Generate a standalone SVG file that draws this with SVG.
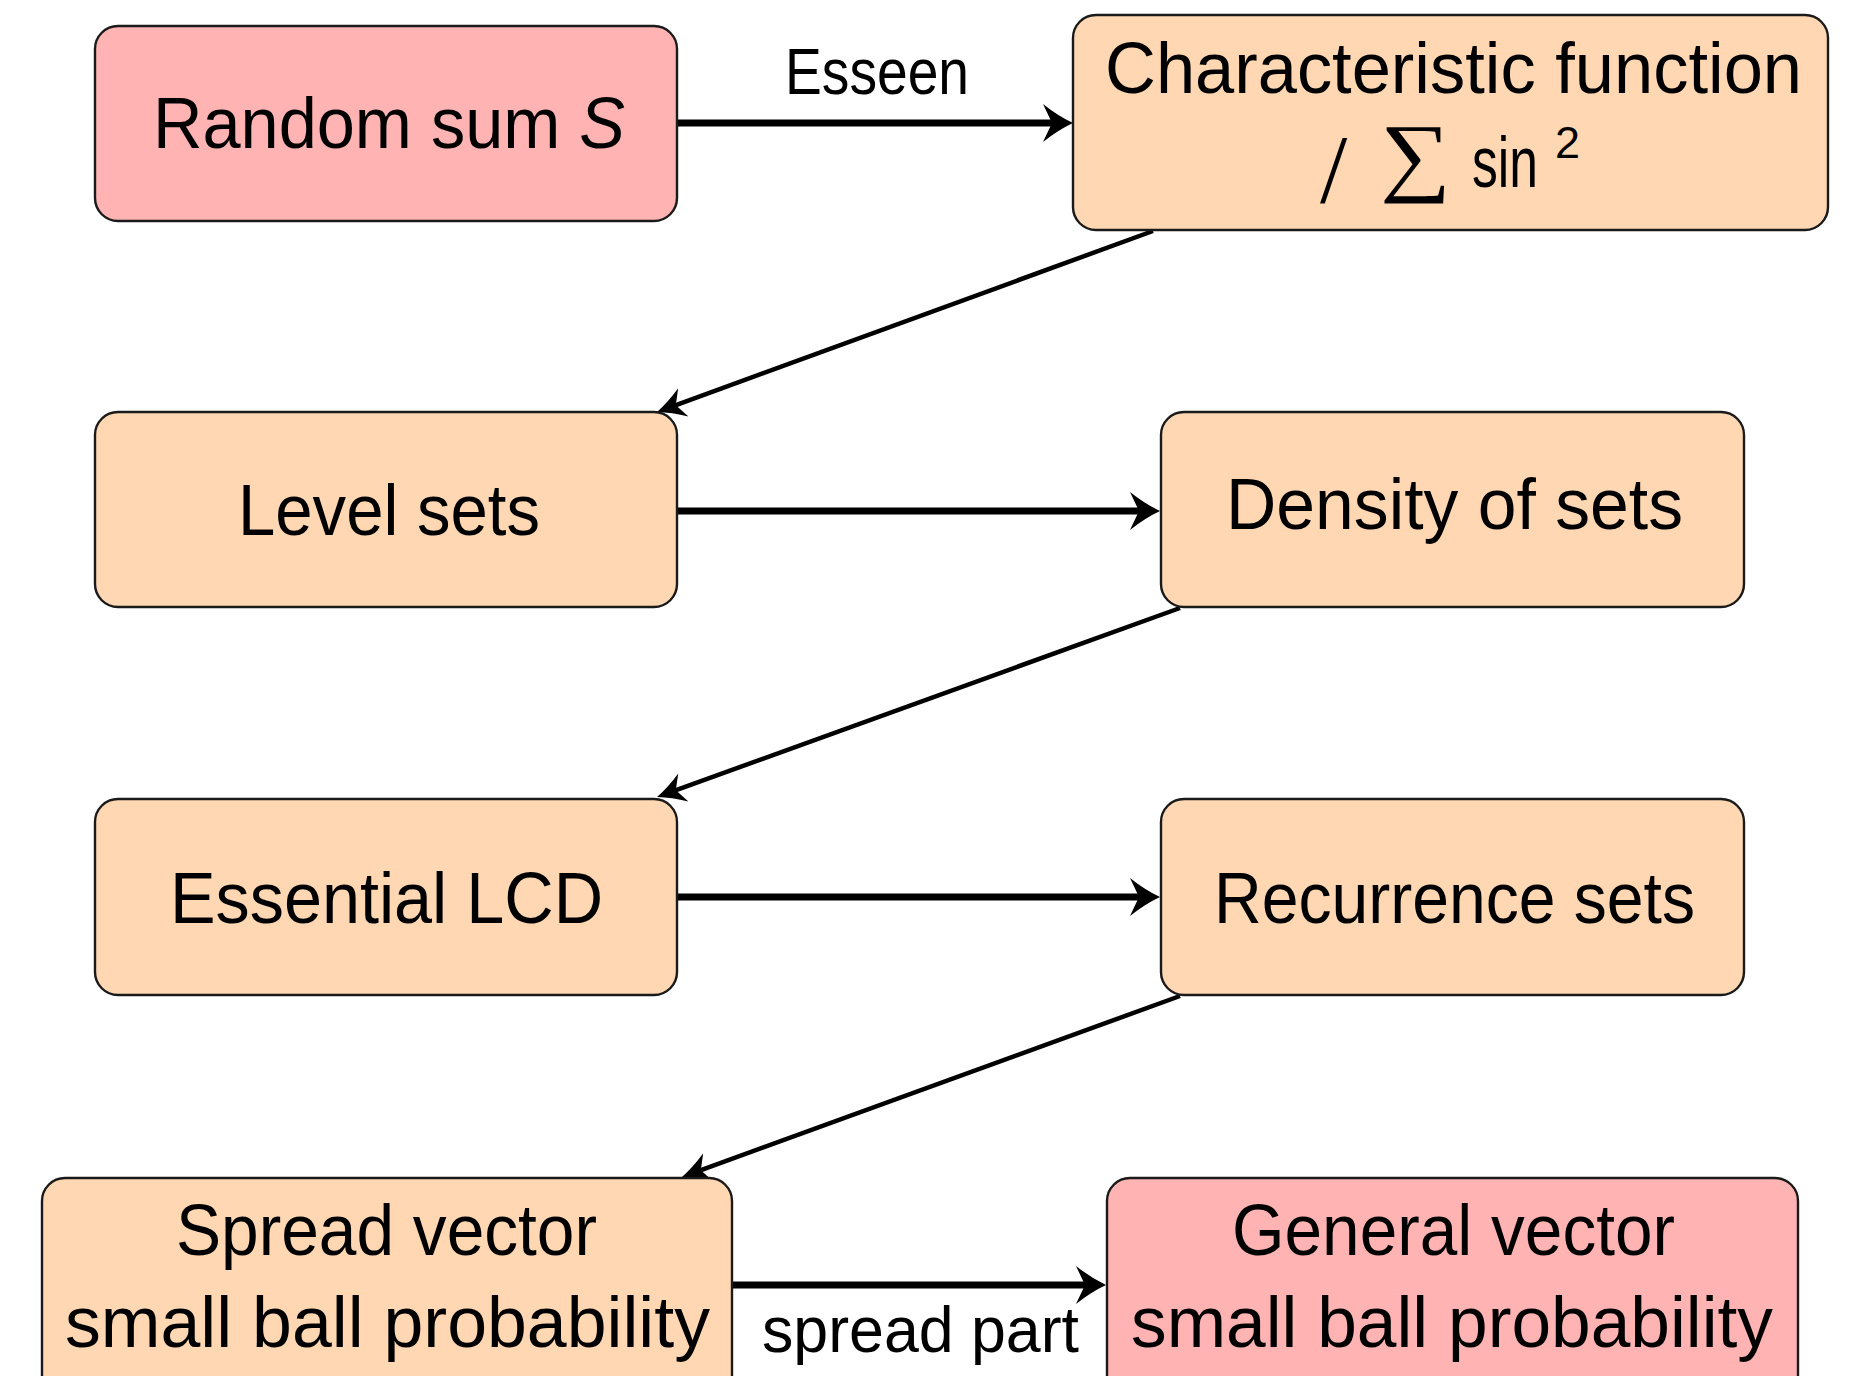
<svg xmlns="http://www.w3.org/2000/svg" width="1866" height="1376" viewBox="0 0 1866 1376">
<defs>
<style>
.box{stroke:#1a1a1a;stroke-width:2.4}
.pink{fill:#FFB3B3}
.orange{fill:#FFD8B3}
.t{font-family:"Liberation Sans",Arial,sans-serif;font-size:73px;fill:#000}
.lbl{font-family:"Liberation Sans",Arial,sans-serif;font-size:64px;fill:#000}
.h{fill:none;stroke:#000;stroke-width:7;marker-end:url(#ah)}
.d{fill:none;stroke:#000;stroke-width:4.5;marker-end:url(#ad)}
</style>
<marker id="ah" markerUnits="userSpaceOnUse" markerWidth="34" markerHeight="44" viewBox="0 -22 34 44" refX="20" refY="0" orient="auto">
<path d="M0,-19 Q15,-7 30,0 Q15,7 0,19 L9,0 Z" fill="#000"/>
</marker>
<marker id="ad" markerUnits="userSpaceOnUse" markerWidth="30" markerHeight="34" viewBox="0 -17 30 34" refX="18" refY="0" orient="auto">
<path d="M0,-15 Q14,-5.5 28,0 Q14,5.5 0,15 L8,0 Z" fill="#000"/>
</marker>
</defs>
<rect width="1866" height="1376" fill="#fff"/>

<g id="connectors">
<path class="h" d="M677,123 L1063,123"/>
<path class="d" d="M1153,231 L666.4,408.6"/>
<path class="h" d="M678,511 L1150,511"/>
<path class="d" d="M1180,608 L666.4,793.6"/>
<path class="h" d="M678,897 L1150,897"/>
<path class="d" d="M1180,996 L691.4,1173.6"/>
<path class="h" d="M732,1285 L1096,1285"/>
<text class="lbl" x="785" y="94" textLength="184" lengthAdjust="spacingAndGlyphs">Esseen</text>
<text class="lbl" x="762" y="1352" textLength="317" lengthAdjust="spacingAndGlyphs">spread part</text>
</g>

<g id="random-sum">
<rect class="box pink" x="95" y="26" width="582" height="195" rx="23"/>
<text class="t" x="153" y="148" textLength="472" lengthAdjust="spacingAndGlyphs">Random sum <tspan font-style="italic">S</tspan></text>
</g>

<g id="characteristic-function">
<rect class="box orange" x="1073" y="15" width="755" height="215" rx="23"/>
<text class="t" x="1105" y="93" textLength="697" lengthAdjust="spacingAndGlyphs">Characteristic function</text>
<text class="t" style="font-size:98px;font-family:'Liberation Serif',serif" x="1320" y="202">/</text>
<text class="t" style="font-size:88px;font-family:'Liberation Serif',serif" x="1380" y="185" textLength="71" lengthAdjust="spacingAndGlyphs">∑</text>
<text class="t" x="1472" y="187" textLength="66" lengthAdjust="spacingAndGlyphs">sin</text>
<text class="t" style="font-size:45px" x="1555" y="158">2</text>
</g>

<g id="level-sets">
<rect class="box orange" x="95" y="412" width="582" height="195" rx="23"/>
<text class="t" x="238" y="535" textLength="302" lengthAdjust="spacingAndGlyphs">Level sets</text>
</g>

<g id="density-of-sets">
<rect class="box orange" x="1161" y="412" width="583" height="195" rx="23"/>
<text class="t" x="1226" y="529" textLength="457" lengthAdjust="spacingAndGlyphs">Density of sets</text>
</g>

<g id="essential-lcd">
<rect class="box orange" x="95" y="799" width="582" height="196" rx="23"/>
<text class="t" x="170" y="923" textLength="433" lengthAdjust="spacingAndGlyphs">Essential LCD</text>
</g>

<g id="recurrence-sets">
<rect class="box orange" x="1161" y="799" width="583" height="196" rx="23"/>
<text class="t" x="1214" y="923" textLength="481" lengthAdjust="spacingAndGlyphs">Recurrence sets</text>
</g>

<g id="spread-vector">
<rect class="box orange" x="42" y="1178" width="690" height="260" rx="23"/>
<text class="t" x="176" y="1255" textLength="421" lengthAdjust="spacingAndGlyphs">Spread vector</text>
<text class="t" x="65" y="1347" textLength="645" lengthAdjust="spacingAndGlyphs">small ball probability</text>
</g>

<g id="general-vector">
<rect class="box pink" x="1107" y="1178" width="691" height="260" rx="23"/>
<text class="t" x="1232" y="1255" textLength="443" lengthAdjust="spacingAndGlyphs">General vector</text>
<text class="t" x="1131" y="1347" textLength="642" lengthAdjust="spacingAndGlyphs">small ball probability</text>
</g>
</svg>
